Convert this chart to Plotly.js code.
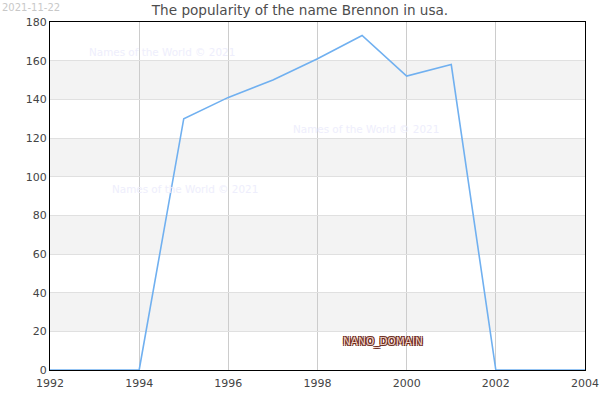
<!DOCTYPE html>
<html>
<head>
<meta charset="utf-8">
<script src="https://cdn.plot.ly/plotly-3.0.1.min.js"></script>
<style>html,body{margin:0;padding:0;background:#fff;}#chart{width:600px;height:400px;}</style>
</head>
<body>
<div id="chart"></div>
<script>
var years = [1992, 1993, 1994, 1995, 1996, 1997, 1998, 1999, 2000, 2001, 2002, 2003, 2004];
var counts = [0, 0, 0, 130, 141, 150, 161, 173, 152, 158, 0, 0, 0];
var yTicks = [0, 20, 40, 60, 80, 100, 120, 140, 160, 180];
var xTicks = [1992, 1994, 1996, 1998, 2000, 2002, 2004];
var titleText = "The popularity of the name Brennon in usa.";
var dateText = "2021-11-22";
var watermark = "Names of the World © 2021";
var domainText = "NANO_DOMAIN";

var shapes = [];
for (var i = 1; i < yTicks.length - 1; i += 2) {
  shapes.push({type: 'rect', xref: 'paper', yref: 'y', x0: 0, x1: 1, y0: yTicks[i], y1: yTicks[i + 1],
    fillcolor: '#f3f3f3', line: {width: 0}, layer: 'below'});
}

var trace = {
  x: years, y: counts, type: 'scatter', mode: 'lines',
  line: {color: '#70b0f0', width: 1.6}, hoverinfo: 'skip'
};

var layout = {
  width: 600, height: 400,
  margin: {l: 50, r: 15, t: 22, b: 30},
  paper_bgcolor: '#ffffff', plot_bgcolor: 'rgba(0,0,0,0)',
  font: {family: 'DejaVu Sans, sans-serif', size: 11, color: '#444'},
  title: {text: titleText, x: 0.5, xanchor: 'center', y: 0.975, yanchor: 'middle',
    font: {family: 'DejaVu Sans, sans-serif', size: 13.6, color: '#4d4d4d'}},
  showlegend: false,
  xaxis: {range: [1992, 2004], tickvals: xTicks, ticktext: xTicks.map(String),
    showgrid: true, gridcolor: '#cccccc', gridwidth: 1,
    showline: true, linecolor: '#000', linewidth: 1, mirror: true,
    ticks: '', ticklabelstandoff: 3, zeroline: false, tickfont: {size: 11, color: '#444'}},
  yaxis: {range: [0, 180], tickvals: yTicks, ticktext: yTicks.map(String),
    showgrid: true, gridcolor: '#e0e0e0', gridwidth: 1,
    showline: true, linecolor: '#000', linewidth: 1, mirror: true,
    ticks: '', zeroline: false, tickfont: {size: 11, color: '#444'}},
  shapes: shapes,
  annotations: [
    {text: dateText, xref: 'paper', yref: 'paper', x: -50/535, y: 1 + 22/348, xanchor: 'left', yanchor: 'top',
      showarrow: false, font: {size: 10, color: '#c8c8c8'}},
    {text: watermark, xref: 'x', yref: 'y', x: 1992.83, y: 164.5, xanchor: 'left', yanchor: 'middle',
      showarrow: false, font: {size: 10.4, color: '#eeeefc'}},
    {text: watermark, xref: 'x', yref: 'y', x: 1997.41, y: 124.7, xanchor: 'left', yanchor: 'middle',
      showarrow: false, font: {size: 10.4, color: '#eeeefc'}},
    {text: watermark, xref: 'x', yref: 'y', x: 1993.35, y: 93.6, xanchor: 'left', yanchor: 'middle',
      showarrow: false, font: {size: 10.4, color: '#eeeefc'}},
    {text: domainText, xref: 'x', yref: 'y', x: 1999.47, y: 14.8, xanchor: 'center', yanchor: 'middle',
      showarrow: false,
      font: {size: 10.5, color: '#f3d2c6',
        shadow: '-1px -1px 0 #6b2a1a, 1px -1px 0 #6b2a1a, -1px 1px 0 #6b2a1a, 1px 1px 0 #6b2a1a'}}
  ]
};

Plotly.newPlot('chart', [trace], layout, {staticPlot: true, displayModeBar: false});
</script>
</body>
</html>
